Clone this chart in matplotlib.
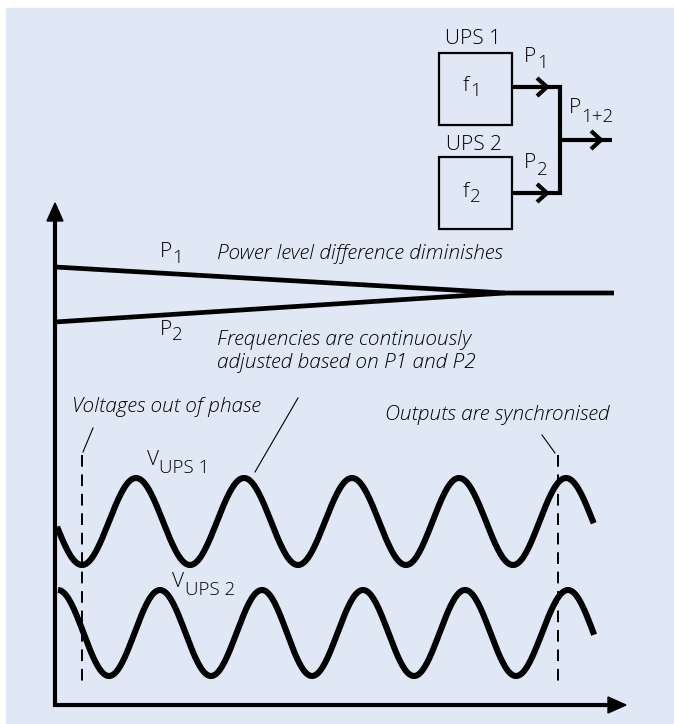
import numpy as np
import matplotlib
matplotlib.use("Agg")
import matplotlib.pyplot as plt
from matplotlib.patches import Rectangle, Polygon

W, H = 674, 724
bg = "#e1e8f5"
FONT = "Open Sans"

# power lines (px coords)
p1_x = [55, 505, 614]
p1_y = [267, 293, 293]
p2_x = [55, 505]
p2_y = [322, 293]

# sine wave extrema (first/last are outside the drawn span and get clipped)
wave1_x = [28, 82, 136, 190, 244, 298, 352, 406, 459, 513, 566, 620]
wave1_y = [478, 565] * 6
wave1_span = (57, 595)
wave2_x = [7, 58, 109, 160, 211, 262, 312, 363, 414, 465, 516, 568, 619]
wave2_y = [676, 590] * 6 + [676]
wave2_span = (57, 595)

# dashed markers and leader lines
dash_x = [82, 558]
dash_y = (455, 682)
leaders = [((93, 428), (83, 452)), ((298, 398), (255, 472)), ((542, 435), (555, 453))]

fig = plt.figure(figsize=(W / 100, H / 100), dpi=100)
ax = fig.add_axes([0, 0, 1, 1])
ax.set_xlim(0, W)
ax.set_ylim(H, 0)
ax.axis("off")
ax.add_patch(Rectangle((6, 8), W - 6, H - 8, color=bg, zorder=0))


def txt(x, y, s, size=15, italic=False, **kw):
    ax.text(x, y, s, fontsize=size, family=FONT, fontweight="light",
            style="italic" if italic else "normal", va="baseline", ha="left", **kw)


def sub_label(x, y, main, sub, dx, dy, size=15, subsize=13.5):
    txt(x, y, main, size)
    txt(x + dx, y + dy, sub, subsize)


def eased(xs, ys, span, n=40):
    px, py = [], []
    for x0, x1, y0, y1 in zip(xs[:-1], xs[1:], ys[:-1], ys[1:]):
        t = np.linspace(0, 1, n)
        px.append(x0 + (x1 - x0) * t)
        py.append(y0 + (y1 - y0) * (1 - np.cos(np.pi * t)) / 2)
    px, py = np.concatenate(px), np.concatenate(py)
    m = (px >= span[0]) & (px <= span[1])
    return px[m], py[m]


# axes with arrow heads
ax.plot([55, 55, 610], [220, 705, 705], color="k", lw=3, solid_joinstyle="miter",
        solid_capstyle="butt")
ax.add_patch(Polygon([(55, 203), (47, 221), (63, 221)], color="k"))
ax.add_patch(Polygon([(626, 705), (608, 697), (608, 713)], color="k"))

# power lines
ax.plot(p1_x, p1_y, color="k", lw=3.4, solid_capstyle="butt")
ax.plot(p2_x, p2_y, color="k", lw=3.4, solid_capstyle="butt")

# waves
for xs, ys, span in [(wave1_x, wave1_y, wave1_span), (wave2_x, wave2_y, wave2_span)]:
    wx, wy = eased(xs, ys, span)
    ax.plot(wx, wy, color="k", lw=4.4, solid_capstyle="butt")

for x in dash_x:
    ax.plot([x, x], dash_y, color="k", lw=1.4, dashes=(6, 4))
for (a, b) in leaders:
    ax.plot([a[0], b[0]], [a[1], b[1]], color="k", lw=0.8)

# top block diagram
for y0 in (53, 157):
    ax.add_patch(Rectangle((439, y0), 73, 72, fill=False, ec="k", lw=1.6))
ax.plot([512, 560, 560, 512], [87, 87, 193, 193], color="k", lw=3,
        solid_joinstyle="miter", solid_capstyle="butt")
ax.plot([560, 612], [140, 140], color="k", lw=3, solid_capstyle="butt")
for cx, cy in [(547, 87), (547, 193), (601, 140)]:
    ax.plot([cx - 10, cx, cx - 10], [cy - 9, cy, cy + 9], color="k", lw=3,
            solid_joinstyle="miter", solid_capstyle="butt")

txt(445, 44, "UPS 1")
txt(446, 150, "UPS 2")
sub_label(463, 91, "f", "1", 7, 5)
sub_label(463, 197, "f", "2", 7, 5)
sub_label(524, 62, "P", "1", 13, 6)
sub_label(524, 168, "P", "2", 13, 7)
sub_label(569, 113, "P", "1+2", 12, 9)

# labels of the lower chart
sub_label(160, 257, "P", "1", 12, 6)
sub_label(160, 335, "P", "2", 12, 5)
txt(217, 259, "Power level difference diminishes", italic=True)
txt(217, 345, "Frequencies are continuously", italic=True)
txt(217, 368, "adjusted based on P1 and P2", italic=True)
txt(72, 412, "Voltages out of phase", italic=True)
txt(385, 420, "Outputs are synchronised", italic=True)
sub_label(147, 465, "V", "UPS 1", 12, 8)
sub_label(172, 587, "V", "UPS 2", 13, 8)

fig.savefig("out.png", dpi=100, facecolor="white")
